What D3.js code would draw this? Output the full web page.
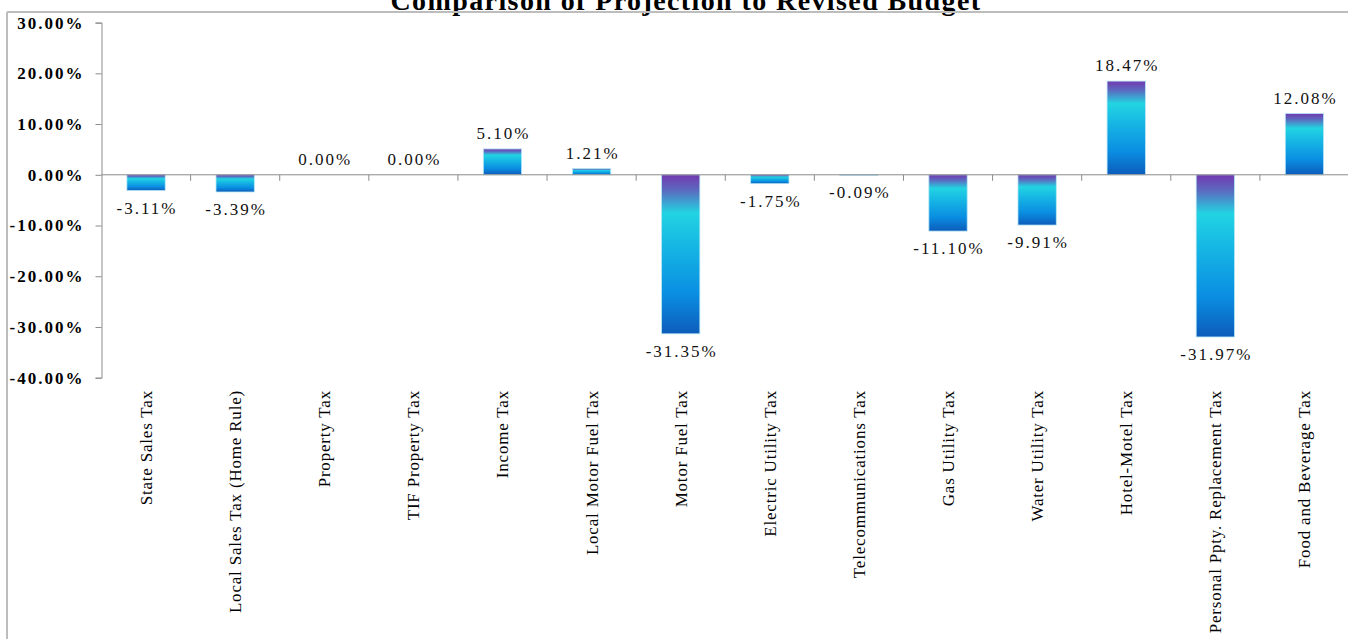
<!DOCTYPE html>
<html>
<head>
<meta charset="utf-8">
<script src="https://cdn.jsdelivr.net/npm/d3@7"></script>
<style>
  body { margin: 0; background: #fff; }
  svg { display: block; }
</style>
</head>
<body>
<svg id="chart"></svg>
<script>
// data
const categories = [
  "State Sales Tax", "Local Sales Tax (Home Rule)", "Property Tax", "TIF Property Tax",
  "Income Tax", "Local Motor Fuel Tax", "Motor Fuel Tax", "Electric Utility Tax",
  "Telecommunications Tax", "Gas Utility Tax", "Water Utility Tax", "Hotel-Motel Tax",
  "Personal Ppty. Replacement Tax", "Food and Beverage Tax"
];
const changes = [-3.11, -3.39, 0.00, 0.00, 5.10, 1.21, -31.35, -1.75, -0.09, -11.10, -9.91, 18.47, -31.97, 12.08];
const yTicks = [30, 20, 10, 0, -10, -20, -30, -40];

const width = 1348;
const height = 639;
const serif = "'Liberation Serif', 'Times New Roman', serif";

const svg = d3.select("#chart")
  .attr("width", width)
  .attr("height", height);

// gradient fill (purple top -> cyan -> blue bottom)
const grad = svg.append("defs").append("linearGradient")
  .attr("id", "barGrad")
  .attr("x1", 0).attr("y1", 0).attr("x2", 0).attr("y2", 1);
[
  [0, "#7338b0"], [0.1, "#5a6cc0"], [0.24, "#22d4e2"], [0.45, "#16b6e4"],
  [0.75, "#0a8ee2"], [1, "#0d5cba"]
].forEach(([o, c]) => grad.append("stop").attr("offset", o).attr("stop-color", c));

// title (cut off at top, like the source)
svg.append("text")
  .attr("x", 686)
  .attr("y", 10)
  .attr("text-anchor", "middle")
  .style("font-family", serif)
  .style("font-weight", "bold")
  .style("font-size", "28px")
  .style("letter-spacing", "1.4px")
  .text("Comparison of Projection to Revised Budget");

// chart frame
svg.append("line")
  .attr("x1", 7).attr("x2", width).attr("y1", 12).attr("y2", 12)
  .attr("stroke", "#bdbdbd").attr("stroke-width", 2);
svg.append("line")
  .attr("x1", 7).attr("x2", 7).attr("y1", 12).attr("y2", height)
  .attr("stroke", "#bdbdbd").attr("stroke-width", 2);

const x = d3.scaleBand()
  .domain(categories)
  .range([101.5, 1349])
  .paddingInner(0.57)
  .paddingOuter(0.285);

const y = d3.scaleLinear()
  .domain([-40, 30])
  .range([377.7, 22.6]);

// y axis
const yAxis = svg.append("g")
  .attr("transform", "translate(101.5,0)")
  .call(d3.axisLeft(y).tickValues(yTicks).tickSize(6).tickPadding(11)
    .tickFormat(d => d.toFixed(2) + "%"));
yAxis.selectAll("path, line").attr("stroke", "#8c8c8c");
yAxis.selectAll("text")
  .style("font-family", serif)
  .style("font-weight", "bold")
  .style("font-size", "17px")
  .style("letter-spacing", "2px")
  .attr("fill", "#000");

// bars
svg.selectAll(".bar")
  .data(categories)
  .join("rect")
  .attr("class", "bar")
  .attr("x", d => x(d))
  .attr("width", x.bandwidth())
  .attr("y", (d, i) => y(Math.max(0, changes[i])))
  .attr("height", (d, i) => Math.abs(y(changes[i]) - y(0)))
  .attr("fill", "url(#barGrad)")
  .attr("stroke", "#b6e6f6")
  .attr("stroke-width", 0.8);

// x axis at zero with boundary ticks
svg.append("line")
  .attr("x1", 101.5).attr("x2", width)
  .attr("y1", y(0)).attr("y2", y(0))
  .attr("stroke", "#8c8c8c");
svg.selectAll(".xtick")
  .data(categories.slice(0, -1))
  .join("line")
  .attr("class", "xtick")
  .attr("x1", d => x(d) + x.bandwidth() / 2 + x.step() / 2)
  .attr("x2", d => x(d) + x.bandwidth() / 2 + x.step() / 2)
  .attr("y1", y(0)).attr("y2", y(0) + 6)
  .attr("stroke", "#8c8c8c");

// data labels
svg.selectAll(".val")
  .data(categories)
  .join("text")
  .attr("class", "val")
  .attr("x", d => x(d) + x.bandwidth() / 2 + 1)
  .attr("y", (d, i) => changes[i] >= 0 ? y(changes[i]) - 10 : y(changes[i]) + 23)
  .attr("text-anchor", "middle")
  .style("font-family", serif)
  .style("font-size", "17px")
  .style("letter-spacing", "2px")
  .attr("fill", "#111")
  .text((d, i) => changes[i].toFixed(2) + "%");

// category labels (rotated)
svg.selectAll(".cat")
  .data(categories)
  .join("text")
  .attr("class", "cat")
  .attr("transform", d => `translate(${x(d) + x.bandwidth() / 2},390) rotate(-90)`)
  .attr("dy", "0.35em")
  .attr("text-anchor", "end")
  .style("font-family", serif)
  .style("font-size", "17px")
  .style("letter-spacing", "0.8px")
  .attr("fill", "#000")
  .text(d => d);
</script>
</body>
</html>
